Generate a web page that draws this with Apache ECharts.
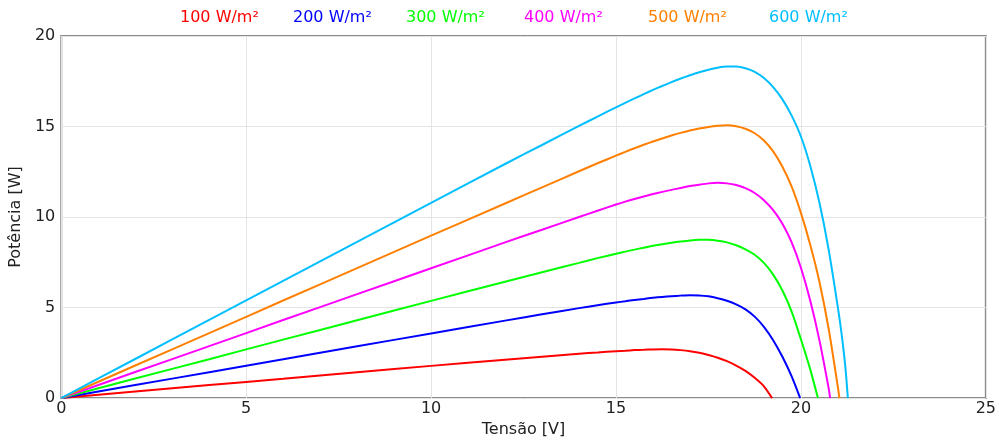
<!DOCTYPE html>
<html>
<head>
<meta charset="utf-8">
<script src="https://cdn.jsdelivr.net/npm/echarts@6/dist/echarts.min.js"></script>
<style>
  html, body { margin: 0; padding: 0; background: #fff; }
  #chart { width: 999px; height: 443px; }
</style>
</head>
<body>
<div id="chart"></div>
<script>
// P-V curves of a PV module for several irradiance levels: [voltage V, power W]
const seriesNames = ['100 W/m²', '200 W/m²', '300 W/m²', '400 W/m²', '500 W/m²', '600 W/m²'];
const seriesColors = ['#ff0000', '#0000ff', '#00ff00', '#ff00ff', '#ff8000', '#00bfff'];
const legendLeft = [175, 288, 401, 519, 643, 764];

const pv100 = [[0,0],[2,0.36],[4,0.72],[6,1.07],[8,1.43],[10,1.78],[12,2.12],[13,2.29],[14,2.45],[14.5,2.52],[15,2.59],[15.25,2.62],[15.5,2.65],[15.75,2.67],[16,2.69],[16.25,2.7],[16.5,2.69],[16.75,2.65],[17,2.59],[17.25,2.5],[17.5,2.38],[17.75,2.23],[18,2.04],[18.25,1.8],[18.5,1.5],[18.75,1.12],[19,0.65],[19.22,0]];
const pv200 = [[0,0],[2,0.72],[4,1.43],[6,2.14],[8,2.86],[10,3.57],[12,4.28],[13,4.63],[14,4.97],[14.5,5.13],[15,5.28],[15.25,5.35],[15.5,5.42],[15.75,5.48],[16,5.54],[16.25,5.59],[16.5,5.63],[16.75,5.66],[17,5.68],[17.25,5.67],[17.5,5.62],[17.75,5.52],[18,5.38],[18.25,5.18],[18.5,4.9],[18.75,4.5],[19,3.94],[19.25,3.2],[19.5,2.28],[19.75,1.2],[19.98,0]];
const pv300 = [[0,0],[2,1.08],[4,2.15],[6,3.23],[8,4.3],[10,5.37],[12,6.43],[13,6.95],[14,7.47],[14.5,7.73],[15,7.97],[15.25,8.09],[15.5,8.2],[15.75,8.31],[16,8.41],[16.25,8.5],[16.5,8.58],[16.75,8.65],[17,8.71],[17.25,8.74],[17.5,8.74],[17.75,8.69],[18,8.6],[18.25,8.44],[18.5,8.22],[18.75,7.92],[19,7.47],[19.25,6.82],[19.5,5.94],[19.75,4.78],[20,3.25],[20.25,1.6],[20.46,0]];
const pv400 = [[0,0],[2,1.44],[4,2.87],[6,4.31],[8,5.74],[10,7.17],[12,8.6],[13,9.3],[14,10.0],[14.5,10.35],[15,10.69],[15.25,10.85],[15.5,11.0],[15.75,11.14],[16,11.27],[16.25,11.39],[16.5,11.5],[16.75,11.61],[17,11.71],[17.25,11.79],[17.5,11.86],[17.75,11.89],[18,11.86],[18.25,11.77],[18.5,11.6],[18.75,11.33],[19,10.93],[19.25,10.38],[19.5,9.63],[19.75,8.6],[20,7.2],[20.25,5.4],[20.5,3.2],[20.75,0.55],[20.79,0]];
const pv500 = [[0,0],[2,1.8],[4,3.59],[6,5.39],[8,7.18],[10,8.97],[12,10.75],[13,11.64],[14,12.53],[14.5,12.97],[15,13.39],[15.25,13.6],[15.5,13.8],[15.75,13.99],[16,14.17],[16.25,14.34],[16.5,14.5],[16.75,14.65],[17,14.78],[17.25,14.89],[17.5,14.98],[17.75,15.04],[18,15.07],[18.25,15.02],[18.5,14.88],[18.75,14.63],[19,14.23],[19.25,13.63],[19.5,12.78],[19.75,11.68],[20,10.23],[20.25,8.48],[20.5,6.43],[20.75,3.83],[21,0.6],[21.04,0]];
const pv600 = [[0,0],[2,2.16],[4,4.32],[6,6.48],[8,8.63],[10,10.78],[12,12.93],[13,13.98],[14,15.03],[14.5,15.55],[15,16.06],[15.25,16.31],[15.5,16.55],[15.75,16.79],[16,17.02],[16.25,17.24],[16.5,17.45],[16.75,17.65],[17,17.83],[17.25,18.0],[17.5,18.14],[17.75,18.25],[18,18.31],[18.25,18.31],[18.5,18.22],[18.75,18.02],[19,17.68],[19.25,17.18],[19.5,16.5],[19.75,15.6],[20,14.45],[20.25,12.85],[20.5,10.8],[20.75,8.2],[21,5.0],[21.1,3.55],[21.2,1.75],[21.27,0]];
const seriesData = [pv100, pv200, pv300, pv400, pv500, pv600];

const xTicks = { min: 0, max: 25, interval: 5 };
const yTicks = { min: 0, max: 20, interval: 5 };

const font = 'DejaVu Sans';
const fontSize = 16;
const chart = echarts.init(document.getElementById('chart'));

chart.setOption({
  animation: false,
  backgroundColor: '#ffffff',
  // one legend per entry so each label sits at its own spot along the top
  legend: seriesNames.map((n, i) => ({
    top: 10,
    left: legendLeft[i],
    icon: 'none',
    itemWidth: 0,
    itemHeight: 0,
    padding: 0,
    selectedMode: false,
    data: [{ name: n, textStyle: { color: seriesColors[i] } }],
    textStyle: { fontFamily: font, fontSize: fontSize }
  })),
  grid: { left: 60, right: 10, top: 36, bottom: 40, show: true, borderColor: '#8c8c8c', borderWidth: 2, containLabel: false },
  xAxis: {
    type: 'value',
    min: xTicks.min, max: xTicks.max, interval: xTicks.interval,
    name: 'Tensão [V]',
    nameLocation: 'middle',
    nameGap: 23,
    nameTextStyle: { fontFamily: font, fontSize: fontSize, color: '#222' },
    axisLine: { show: false },
    axisTick: { show: false },
    axisLabel: { fontFamily: font, fontSize: fontSize, color: '#222', margin: 3 },
    splitLine: { lineStyle: { color: '#e4e4e4', width: 1 } }
  },
  yAxis: {
    type: 'value',
    min: yTicks.min, max: yTicks.max, interval: yTicks.interval,
    name: 'Potência [W]',
    nameLocation: 'middle',
    nameGap: 34,
    nameTextStyle: { fontFamily: font, fontSize: fontSize, color: '#222' },
    axisLine: { show: false },
    axisTick: { show: false },
    axisLabel: { fontFamily: font, fontSize: fontSize, color: '#222', margin: 6 },
    splitLine: { lineStyle: { color: '#e4e4e4', width: 1 } }
  },
  series: seriesData.map((d, i) => ({
    name: seriesNames[i],
    type: 'line',
    data: d,
    showSymbol: false,
    smooth: 0.25,
    color: seriesColors[i],
    lineStyle: { width: 2, color: seriesColors[i] }
  }))
});
</script>
</body>
</html>
